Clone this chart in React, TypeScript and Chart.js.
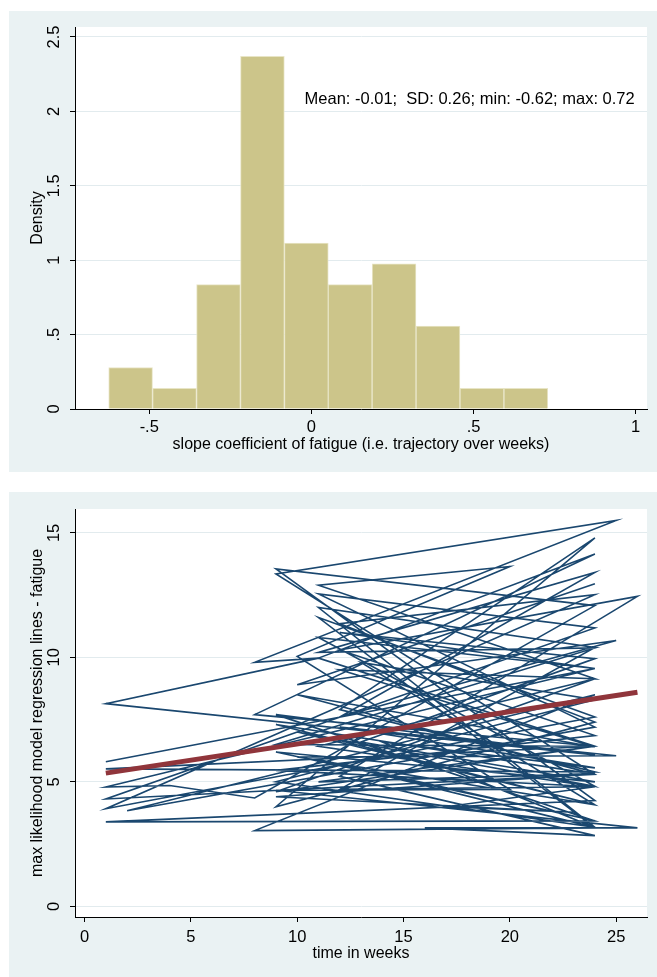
import React, { useEffect, useRef } from 'react';
import { Chart, registerables } from 'chart.js';

Chart.register(...registerables);

const PANEL_BG = '#eaf2f3';
const GRID_COLOR = '#e2ebee';
const FONT = '16px "Liberation Sans", Arial, sans-serif';
const TICK_FONT = '16.5px "Liberation Sans", Arial, sans-serif';
const NOTE_FONT = '16.5px "Liberation Sans", Arial, sans-serif';

// ---------- Panel 1: histogram of individual slopes ----------
const binEdges = [-0.625, -0.49, -0.354, -0.219, -0.083, 0.052, 0.187, 0.323, 0.458, 0.594, 0.729];
const binDensity = [0.279, 0.139, 0.836, 2.37, 1.115, 0.836, 0.976, 0.557, 0.139, 0.139];
const histXTicks = [-0.5, 0, 0.5, 1];
const histXTickLabels = ['-.5', '0', '.5', '1'];
const histYTicks = [0, 0.5, 1, 1.5, 2, 2.5];
const histYTickLabels = ['0', '.5', '1', '1.5', '2', '2.5'];
const histXTitle = 'slope coefficient of fatigue (i.e. trajectory over weeks)';
const histYTitle = 'Density';
const histNote = 'Mean: -0.01;  SD: 0.26; min: -0.62; max: 0.72';
const histNoteX = 0.488;
const histNoteY = 2.08;

// ---------- Panel 2: individual regression lines ----------
// one entry per subject: first week, fitted value at first week, last week, fitted value at last week
const subjStartWeek = [1, 1, 8, 9, 1, 9, 1, 8, 9, 1, 11, 2, 8, 11, 1, 12, 9, 12, 1, 8, 11, 9, 11, 9, 12, 12, 16, 9, 10, 11, 12, 10, 9, 10, 11, 12, 13, 9, 11, 14, 12, 10, 13, 9, 11, 12, 17, 9, 11, 9, 11, 12, 10];
const subjStartFatigue = [5.81, 4.79, 4.35, 13.55, 3.39, 7.7, 8.14, 9.8, 13.35, 4.31, 12.55, 3.84, 3.04, 11.6, 3.92, 11.35, 4.0, 7.9, 5.52, 7.7, 9.97, 4.6, 6.43, 5.46, 10.3, 5.22, 3.15, 4.66, 10.04, 12.9, 9.5, 8.5, 7.3, 7.0, 10.8, 11.0, 6.6, 6.2, 5.9, 6.6, 7.2, 6.0, 9.8, 5.0, 12.0, 4.7, 4.0, 4.4, 5.0, 6.5, 10.2, 7.6, 8.9];
const subjEndWeek = [24, 4, 24, 24, 24, 24, 11, 25, 24, 24, 24, 24, 24, 24, 24, 24, 24, 24, 24, 24, 24, 24, 24, 24, 26, 24, 26, 20, 20, 24, 24, 24, 24, 24, 24, 24, 24, 24, 24, 24, 25, 24, 24, 24, 24, 24, 23, 24, 24, 24, 24, 25, 24];
const subjEndFatigue = [9.55, 4.85, 12.08, 4.25, 3.43, 6.08, 9.97, 15.5, 5.3, 11.18, 7.2, 8.5, 3.15, 7.6, 12.52, 7.4, 14.8, 5.4, 6.43, 14.15, 6.43, 9.14, 4.8, 6.86, 12.45, 2.84, 3.15, 4.69, 13.65, 9.14, 6.4, 5.3, 4.08, 4.82, 9.55, 9.95, 5.0, 3.44, 3.17, 5.56, 6.05, 4.08, 8.3, 3.17, 10.4, 4.8, 3.78, 5.33, 6.43, 10.38, 13.41, 10.68, 12.96];
const fixedWeeks = [1, 26];
const fixedFatigue = [5.35, 8.6];
const lineXTicks = [0, 5, 10, 15, 20, 25];
const lineXTickLabels = ['0', '5', '10', '15', '20', '25'];
const lineYTicks = [0, 5, 10, 15];
const lineYTickLabels = ['0', '5', '10', '15'];
const lineXTitle = 'time in weeks';
const lineYTitle = 'max likelihood model regression lines - fatigue';

type TextCfg = {
  xTicks: number[];
  xLabels: string[];
  yTicks: number[];
  yLabels: string[];
  xTitle: string;
  yTitle: string;
  yLabelX: number;
  yTitleX: number;
  xLabelY: number;
  xTitleY: number;
  note?: { text: string; x: number; y: number };
};

function stataPlugin(cfg: TextCfg) {
  return {
    id: 'stataText',
    beforeDraw(chart: any) {
      const { ctx, chartArea: a, width, height } = chart;
      ctx.save();
      ctx.fillStyle = PANEL_BG;
      ctx.fillRect(0, 0, width, height);
      ctx.fillStyle = '#ffffff';
      ctx.fillRect(a.left, a.top, a.right - a.left, a.bottom - a.top);
      ctx.restore();
    },
    afterDraw(chart: any) {
      const { ctx, chartArea: a } = chart;
      const xs = chart.scales.x;
      const ys = chart.scales.y;
      ctx.save();
      ctx.fillStyle = '#000';
      ctx.textAlign = 'center';
      ctx.textBaseline = 'middle';
      ctx.font = TICK_FONT;
      cfg.xTicks.forEach((v, i) => ctx.fillText(cfg.xLabels[i], xs.getPixelForValue(v), cfg.xLabelY));
      cfg.yTicks.forEach((v, i) => {
        ctx.save();
        ctx.translate(cfg.yLabelX, ys.getPixelForValue(v));
        ctx.rotate(-Math.PI / 2);
        ctx.fillText(cfg.yLabels[i], 0, 0);
        ctx.restore();
      });
      ctx.font = FONT;
      ctx.fillText(cfg.xTitle, (a.left + a.right) / 2, cfg.xTitleY);
      ctx.save();
      ctx.translate(cfg.yTitleX, (a.top + a.bottom) / 2);
      ctx.rotate(-Math.PI / 2);
      ctx.fillText(cfg.yTitle, 0, 0);
      ctx.restore();
      if (cfg.note) {
        ctx.font = NOTE_FONT;
        ctx.fillText(cfg.note.text, xs.getPixelForValue(cfg.note.x), ys.getPixelForValue(cfg.note.y));
      }
      ctx.restore();
    },
  };
}

function axis(min: number, max: number, ticks: number[], onArea: boolean, size: number, isY: boolean) {
  return {
    type: 'linear',
    min,
    max,
    offset: false,
    afterBuildTicks: (s: any) => {
      s.ticks = ticks.map((v) => ({ value: v }));
    },
    afterFit: (s: any) => {
      if (isY) s.width = size;
      else s.height = size;
    },
    ticks: { display: false },
    grid: {
      display: true,
      offset: false,
      drawOnChartArea: onArea,
      color: GRID_COLOR,
      lineWidth: 1,
      drawTicks: true,
      tickLength: 5,
      tickColor: '#000',
      tickWidth: 1,
    },
    border: { display: true, color: '#000', width: 1 },
  };
}

function histConfig(): any {
  const centers = binDensity.map((_, i) => (binEdges[i] + binEdges[i + 1]) / 2);
  return {
    type: 'bar',
    data: {
      datasets: [
        {
          data: centers.map((x, i) => ({ x, y: binDensity[i] })),
          backgroundColor: '#ccc58a',
          borderColor: '#e8e5c6',
          borderWidth: 1,
          barPercentage: 1,
          categoryPercentage: 1,
        },
      ],
    },
    options: {
      responsive: false,
      animation: false,
      events: [],
      layout: { padding: { left: 0, top: 16, right: 10, bottom: 0 } },
      plugins: { legend: { display: false }, tooltip: { enabled: false } },
      scales: {
        x: axis(-0.729, 1.035, histXTicks, false, 63, false),
        y: axis(0, 2.567, histYTicks, true, 66, true),
      },
    },
    plugins: [
      stataPlugin({
        xTicks: histXTicks,
        xLabels: histXTickLabels,
        yTicks: histYTicks,
        yLabels: histYTickLabels,
        xTitle: histXTitle,
        yTitle: histYTitle,
        yLabelX: 45.5,
        yTitleX: 28.7,
        xLabelY: 416.7,
        xTitleY: 433.3,
        note: { text: histNote, x: histNoteX, y: histNoteY },
      }),
    ],
  };
}

function lineConfig(): any {
  const path: { x: number; y: number }[] = [];
  subjStartWeek.forEach((w, i) => {
    path.push({ x: w, y: subjStartFatigue[i] });
    path.push({ x: subjEndWeek[i], y: subjEndFatigue[i] });
  });
  return {
    type: 'scatter',
    data: {
      datasets: [
        {
          data: fixedWeeks.map((x, i) => ({ x, y: fixedFatigue[i] })),
          showLine: true,
          borderColor: '#90353b',
          borderWidth: 5,
          pointRadius: 0,
          order: 0,
        },
        {
          data: path,
          showLine: true,
          borderColor: '#1a476f',
          borderWidth: 1.6,
          pointRadius: 0,
          order: 1,
        },
      ],
    },
    options: {
      responsive: false,
      animation: false,
      events: [],
      layout: { padding: { left: 0, top: 17, right: 10, bottom: 0 } },
      plugins: { legend: { display: false }, tooltip: { enabled: false } },
      scales: {
        x: axis(-0.45, 26.45, lineXTicks, false, 60, false),
        y: axis(-0.43, 15.96, lineYTicks, true, 66, true),
      },
    },
    plugins: [
      stataPlugin({
        xTicks: lineXTicks,
        xLabels: lineXTickLabels,
        yTicks: lineYTicks,
        yLabels: lineYTickLabels,
        xTitle: lineXTitle,
        yTitle: lineYTitle,
        yLabelX: 45.5,
        yTitleX: 28.7,
        xLabelY: 445.3,
        xTitleY: 461.3,
      }),
    ],
  };
}

function ChartPanel(props: { left: number; top: number; width: number; height: number; makeConfig: () => any }) {
  const { left, top, width, height, makeConfig } = props;
  const ref = useRef<HTMLCanvasElement>(null);
  useEffect(() => {
    const chart = new Chart(ref.current as HTMLCanvasElement, makeConfig());
    return () => chart.destroy();
  }, []);
  return (
    <div style={{ position: 'absolute', left, top, width, height, background: PANEL_BG }}>
      <canvas ref={ref} width={width} height={height} style={{ display: 'block', width, height }} />
    </div>
  );
}

export default function App() {
  return (
    <div style={{ position: 'absolute', left: 0, top: 0, width: 657, height: 977, background: '#ffffff' }}>
      <ChartPanel left={9} top={11} width={648} height={461} makeConfig={histConfig} />
      <ChartPanel left={9} top={492} width={648} height={485} makeConfig={lineConfig} />
    </div>
  );
}
